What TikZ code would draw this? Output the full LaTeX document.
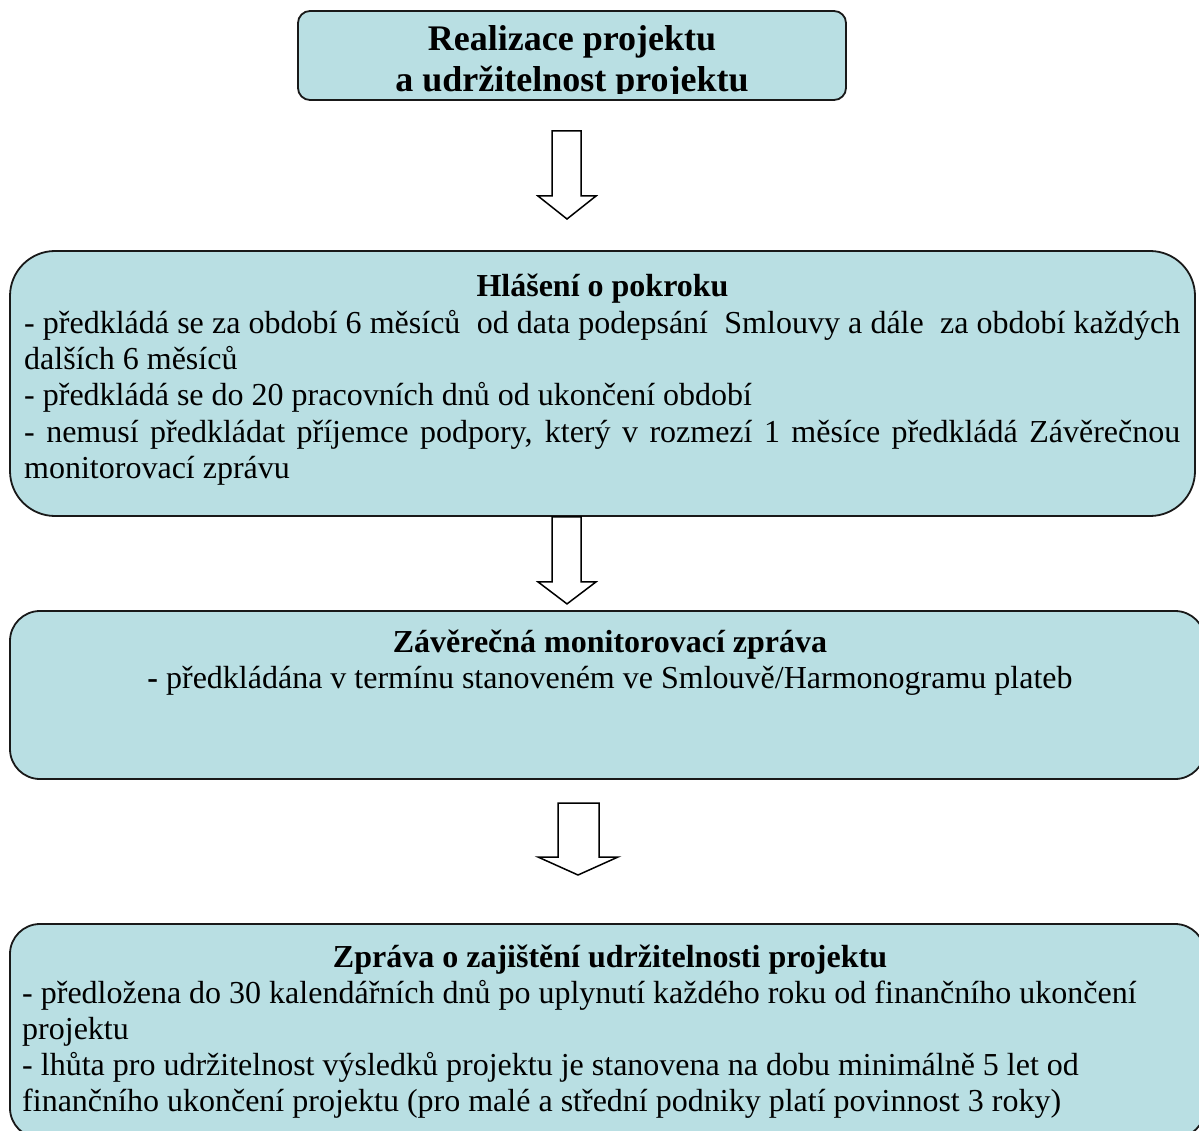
\documentclass[tikz,border=0pt]{standalone}
\usepackage{fontspec}
\setmainfont{Liberation Serif}
\definecolor{boxfill}{HTML}{B9DFE3}
\begin{document}
\begin{tikzpicture}[x=1pt,y=-1pt,
  box/.style={draw=black!90, line width=1.8pt, fill=boxfill, rectangle, inner sep=0pt},
  blockarrow/.style={draw=black, line width=1.5pt, fill=white, line join=miter},
  body/.style={inner sep=0pt, font=\fontsize{32}{36}\selectfont},
  bodyb/.style={inner sep=0pt, font=\fontsize{32}{36}\selectfont\bfseries},
  titleb/.style={inner sep=0pt, font=\fontsize{36}{42}\selectfont\bfseries}]
\useasboundingbox (0,0) rectangle (1199,1131);
\clip (0,0) rectangle (1199,1131);

% boxes
\node[box, rounded corners=12pt, minimum width=548pt, minimum height=89pt] (b1) at (572,55.5) {};
\node[box, rounded corners=45pt, minimum width=1185pt, minimum height=265pt] (b2) at (602.5,383.5) {};
\node[box, rounded corners=30pt, minimum width=1195pt, minimum height=168pt] (b3) at (607.5,695) {};
\node[box, rounded corners=30pt, minimum width=1195pt, minimum height=214pt] (b4) at (607.5,1031) {};

% box 1 text (descenders clipped by the frame)
\begin{scope}
\clip (298,11) rectangle (846,94);
\node[titleb, anchor=base] (t1a) at (572,51) {Realizace projektu};
\node[titleb, anchor=base] (t1b) at (572,92) {a udržitelnost projektu};
\end{scope}

% box 2 text
\node[bodyb, anchor=base] (t2) at (602.5,297) {Hlášení o pokroku};
\node[body, anchor=base west] (l21) at (24,334) {\hbox to 1156pt{- předkládá se za období 6 měsíců\ \ od data podepsání\ \ Smlouvy a dále\ \ za období každých}};
\node[body, anchor=base west] (l22) at (24,370) {dalších 6 měsíců};
\node[body, anchor=base west] (l23) at (24,406) {- předkládá se do 20 pracovních dnů od ukončení období};
\node[body, anchor=base west] (l24) at (24,442) {\hbox to 1156pt{- nemusí předkládat příjemce podpory, který v rozmezí 1 měsíce předkládá Závěrečnou}};
\node[body, anchor=base west] (l25) at (24,478) {monitorovací zprávu};

% box 3 text
\node[bodyb, anchor=base] (t3) at (610,652) {Závěrečná monitorovací zpráva};
\node[body, anchor=base] (l31) at (610,688) {\textbf{-} předkládána v termínu stanoveném ve Smlouvě/Harmonogramu plateb};

% box 4 text
\node[bodyb, anchor=base] (t4) at (610,967) {Zpráva o zajištění udržitelnosti projektu};
\node[body, anchor=base west] (l41) at (22,1003) {- předložena do 30 kalendářních dnů po uplynutí každého roku od finančního ukončení};
\node[body, anchor=base west] (l42) at (22,1039) {projektu};
\node[body, anchor=base west] (l43) at (22,1075) {- lhůta pro udržitelnost výsledků projektu je stanovena na dobu minimálně 5 let od};
\node[body, anchor=base west] (l44) at (22,1111) {finančního ukončení projektu (pro malé a střední podniky platí povinnost 3 roky)};

% block arrows between the boxes
\coordinate (a1) at (552,131);
\coordinate (a2) at (b2.south -| 552,0);
\coordinate (a3) at (558,803);
\draw[blockarrow] (a1) -- ++(29,0) -- ++(0,65) -- ++(15,0) -- ++(-29,23) -- ++(-29,-23) -- ++(14,0) -- cycle;
\draw[blockarrow] (a2) -- ++(29,0) -- ++(0,65) -- ++(15,0) -- ++(-29,22) -- ++(-29,-22) -- ++(14,0) -- cycle;
\draw[blockarrow] (a3) -- ++(41,0) -- ++(0,54) -- ++(19,0) -- ++(-40,18) -- ++(-40,-18) -- ++(20,0) -- cycle;
\end{tikzpicture}
\end{document}
